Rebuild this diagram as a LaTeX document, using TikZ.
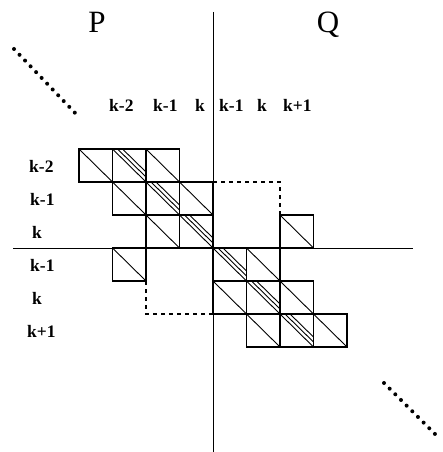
\documentclass[tikz,border=0pt]{standalone}
\usepackage{fontspec}
\setmainfont{Liberation Serif}
\begin{document}
\begin{tikzpicture}[x=1pt,y=-1pt,
  cellline/.style={line width=1.3pt},
  diagline/.style={line width=0.9pt},
  axis/.style={line width=1pt},
  dashline/.style={line width=1.1pt,dash pattern=on 4pt off 4pt},
  dotline/.style={line width=4pt,line cap=round,dash pattern=on 0pt off 8pt},
  lab/.style={font=\bfseries\fontsize{17.5}{19}\selectfont,inner sep=0pt,anchor=base west},
  big/.style={font=\fontsize{31}{34}\selectfont,inner sep=0pt,anchor=base},
  sq/.pic={\draw[cellline] (0,0) rectangle (33.5,33);
           \draw[diagline] (0,0) -- (33.5,33);},
  hsq/.pic={\draw[cellline] (0,0) rectangle (33.5,33);
           \draw[diagline] (0,0) -- (33.5,33);
           \draw[diagline] (5,0) -- (33.5,28);
           \draw[diagline] (10,0) -- (33.5,23);}
]
\useasboundingbox (0,0) rectangle (443,452);

% axes
\coordinate (vt) at (213,12);
\coordinate (vb) at (213,452);
\coordinate (hl) at (13,248);
\coordinate (hr) at (413,248);
\draw[axis] (vt) -- (vb);
\draw[axis] (hl) -- (hr);

% titles
\node[big] (P) at (97,33) {P};
\node[big] (Q) at (328,33) {Q};

% top labels
\node[lab] (t1) at (109,111) {k-2};
\node[lab] (t2) at (153,111) {k-1};
\node[lab] (t3) at (195,111) {k};
\node[lab] (t4) at (219,111) {k-1};
\node[lab] (t5) at (257,111) {k};
\node[lab] (t6) at (283,111) {k+1};

% left labels
\node[lab] (l1) at (29,172) {k-2};
\node[lab] (l2) at (30,205) {k-1};
\node[lab] (l3) at (32,238) {k};
\node[lab] (l4) at (30,271) {k-1};
\node[lab] (l5) at (32,304) {k};
\node[lab] (l6) at (27,337) {k+1};

% cells: columns x = 79 + 33.5 i, rows y = 149 + 33 j
\pic at (79,149) {sq};
\pic at (112.5,149) {hsq};
\pic at (146,149) {sq};

\pic at (112.5,182) {sq};
\pic at (146,182) {hsq};
\pic at (179.5,182) {sq};

\pic at (146,215) {sq};
\pic at (179.5,215) {hsq};
\pic at (280,215) {sq};

\pic at (112.5,248) {sq};
\pic at (213,248) {hsq};
\pic at (246.5,248) {sq};

\pic at (213,281) {sq};
\pic at (246.5,281) {hsq};
\pic at (280,281) {sq};

\pic at (246.5,314) {sq};
\pic at (280,314) {hsq};
\pic at (313.5,314) {sq};

% dashed borders
\coordinate (d1) at (213,182);
\coordinate (d2) at (280,182);
\coordinate (d3) at (280,215);
\draw[dashline] (d1) -- (d2) -- (d3);
\coordinate (e1) at (146,281);
\coordinate (e2) at (146,314);
\coordinate (e3) at (213,314);
\draw[dashline] (e1) -- (e2) -- (e3);

% dotted diagonals
\coordinate (a1) at (14,49);
\coordinate (a2) at (78,116);
\draw[dotline] (a1) -- (a2);
\coordinate (b1) at (384,383);
\coordinate (b2) at (440,439);
\draw[dotline] (b1) -- (b2);
\end{tikzpicture}
\end{document}
